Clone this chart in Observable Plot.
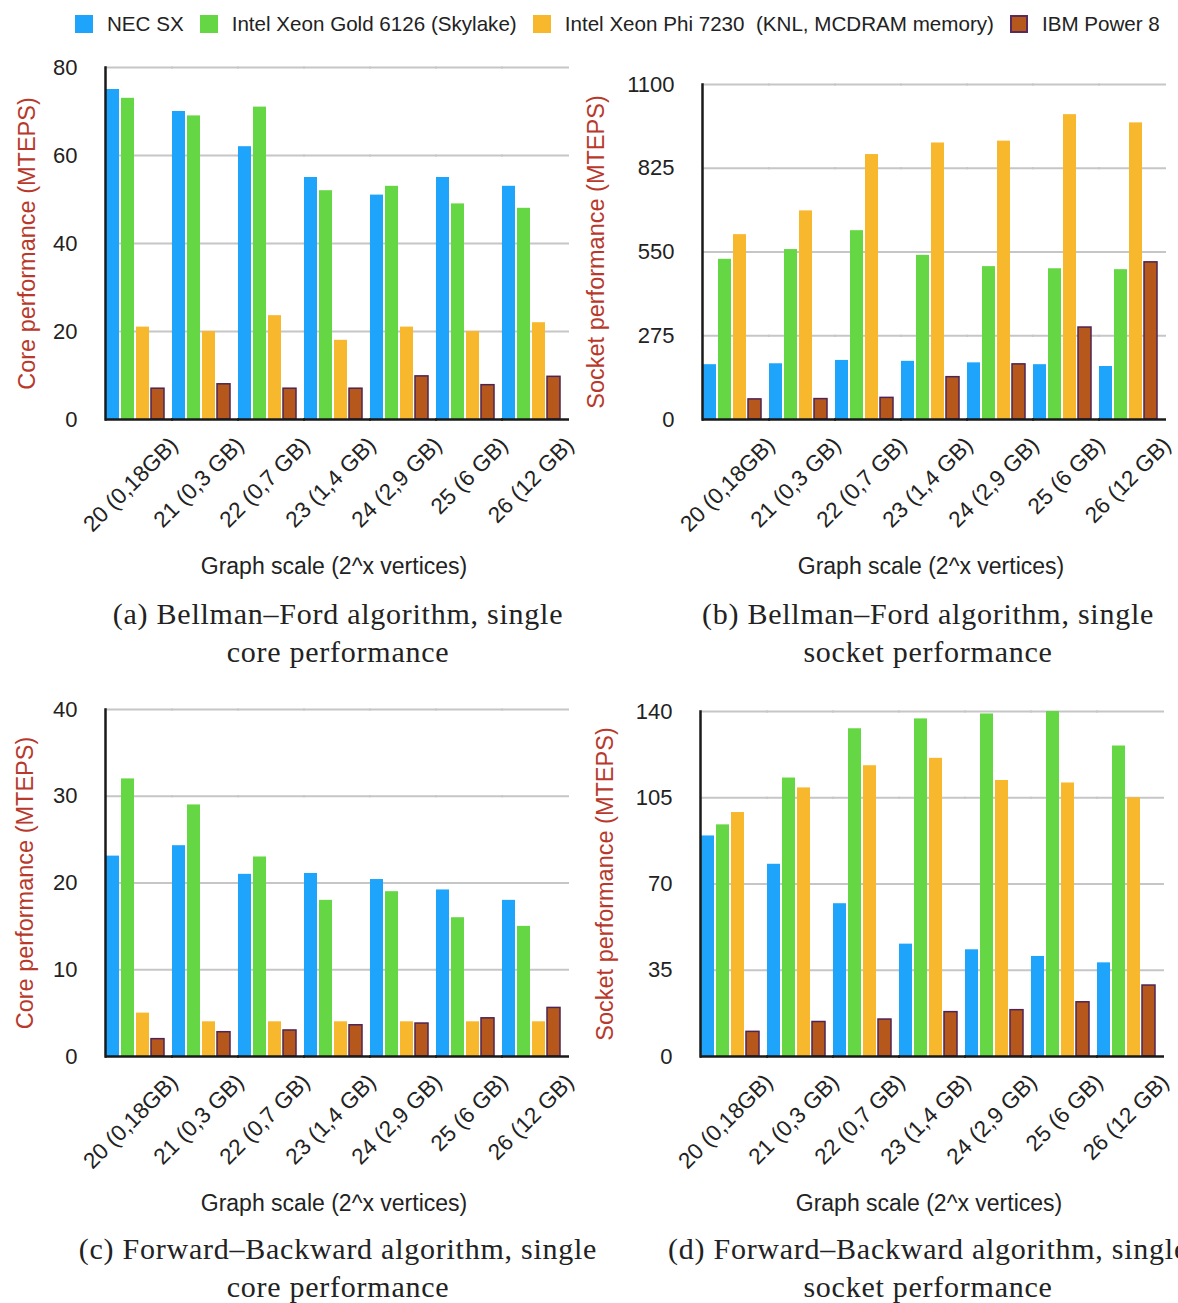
<!DOCTYPE html>
<html><head><meta charset="utf-8">
<script src="https://cdn.jsdelivr.net/npm/d3@7"></script>
<script src="https://cdn.jsdelivr.net/npm/@observablehq/plot@0.6"></script>
<style>
html,body{margin:0;padding:0;background:#fff;width:1178px;height:1303px;overflow:hidden;position:relative;}
.panel{position:absolute;}
.legend{position:absolute;top:12px;left:75px;height:24px;display:flex;align-items:center;font-family:"Liberation Sans",Arial,sans-serif;font-size:20.6px;color:#222;white-space:pre;}
.sw{width:18px;height:18px;margin-right:14px;box-sizing:border-box;}
.item{display:flex;align-items:center;margin-right:16px;}
.cap{position:absolute;width:640px;text-align:center;font-family:"Liberation Serif","Times New Roman",serif;font-size:30px;letter-spacing:0.75px;line-height:38px;color:#222;white-space:nowrap;}
</style></head><body>
<div id="legend" class="legend"></div>
<div id="pa" class="panel" style="left:0;top:40px"></div>
<div id="pb" class="panel" style="left:589px;top:40px"></div>
<div id="pc" class="panel" style="left:0;top:680px"></div>
<div id="pd" class="panel" style="left:589px;top:680px"></div>
<div class="cap" style="left:18px;top:595px">(a) Bellman–Ford algorithm, single<br>core performance</div>
<div class="cap" style="left:608px;top:595px">(b) Bellman–Ford algorithm, single<br>socket performance</div>
<div class="cap" style="left:18px;top:1230px">(c) Forward–Backward algorithm, single<br>core performance</div>
<div class="cap" style="left:608px;top:1230px">(d) Forward–Backward algorithm, single<br>socket performance</div>
<script>
const categories = ["20 (0,18GB)", "21 (0,3 GB)", "22 (0,7 GB)", "23 (1,4 GB)", "24 (2,9 GB)", "25 (6 GB)", "26 (12 GB)"];
const series = ["NEC SX", "Intel Xeon Gold 6126 (Skylake)", "Intel Xeon Phi 7230  (KNL, MCDRAM memory)", "IBM Power 8"];
const colors = ["#1ea4fb", "#66d744", "#f8b82e", "#b6581c"];
const xTitle = "Graph scale (2^x vertices)";

// (a) Bellman-Ford, single core
const bfCoreNEC = [75, 70, 62, 55, 51, 55, 53];
const bfCoreSkylake = [73, 69, 71, 52, 53, 49, 48];
const bfCoreKNL = [21, 20, 23.6, 18, 21, 20, 22];
const bfCoreIBM = [7, 8, 7, 7, 9.8, 7.8, 9.7];
const bfCoreTicks = [0, 20, 40, 60, 80];

// (b) Bellman-Ford, single socket
const bfSocketNEC = [180, 183, 194, 191, 186, 180, 174];
const bfSocketSkylake = [526, 558, 620, 539, 502, 495, 492];
const bfSocketKNL = [607, 685, 870, 908, 914, 1001, 974];
const bfSocketIBM = [66, 67, 71, 139, 181, 302, 516];
const bfSocketTicks = [0, 275, 550, 825, 1100];

// (c) Forward-Backward, single core
const fbCoreNEC = [23.1, 24.3, 21, 21.1, 20.4, 19.2, 18];
const fbCoreSkylake = [32, 29, 23, 18, 19, 16, 15];
const fbCoreKNL = [5, 4, 4, 4, 4, 4, 4];
const fbCoreIBM = [2, 2.8, 3, 3.6, 3.8, 4.4, 5.6];
const fbCoreTicks = [0, 10, 20, 30, 40];

// (d) Forward-Backward, single socket
const fbSocketNEC = [89.5, 78, 62, 45.6, 43.3, 40.6, 38];
const fbSocketSkylake = [94, 113, 133, 137, 139, 140, 126];
const fbSocketKNL = [99, 109, 118, 121, 112, 111, 105];
const fbSocketIBM = [10, 14, 15, 18, 18.8, 22, 28.8];
const fbSocketTicks = [0, 35, 70, 105, 140];

// legend
const lg = document.getElementById("legend");
series.forEach((s, i) => {
  const it = document.createElement("div"); it.className = "item";
  const sw = document.createElement("div"); sw.className = "sw";
  sw.style.background = colors[i];
  if (i === 3) sw.style.border = "2px solid #5a2a5e";
  const t = document.createElement("span"); t.textContent = s;
  it.appendChild(sw); it.appendChild(t); lg.appendChild(it);
});

const FONT = '"Liberation Sans", Arial, Helvetica, sans-serif';

function panel(id, values, ticks, yLabel, m, yLabelDx) {
  const data = [];
  categories.forEach((c, i) => series.forEach((s, j) => data.push({group: c, series: s, value: values[j][i]})));
  const chart = Plot.plot({
    width: 589, height: 550,
    marginLeft: m[0], marginRight: m[1], marginTop: m[2], marginBottom: m[3],
    style: {fontFamily: FONT, fontSize: "22px", color: "#222", background: "transparent", overflow: "visible"},
    fx: {domain: categories, paddingInner: 0.08, paddingOuter: 0, label: null},
    x: {domain: series, paddingInner: 0.12, paddingOuter: 0, axis: null},
    y: {domain: [0, ticks[ticks.length - 1]], axis: null},
    color: {domain: series, range: colors},
    marks: [
      Plot.ruleY(ticks.slice(1), {stroke: "#c6c6c6", strokeWidth: 2, insetRight: -7}),
      Plot.barY(data, {fx: "group", x: "series", y: "value", fill: "series"}),
      Plot.barY(data.filter(d => d.series === series[3]), {fx: "group", x: "series", y: "value", fill: "series", stroke: "#4e2454", strokeWidth: 1.5}),
      Plot.ruleY([0], {stroke: "#1a1a1a", strokeWidth: 2.5, insetRight: -7}),
      Plot.frame({anchor: "left", facet: "super", stroke: "#1a1a1a", strokeWidth: 2.5}),
      Plot.axisY({ticks, tickFormat: d => String(d), tickSize: 0, tickPadding: 28, fontSize: 22, fill: "#222", label: null}),
      Plot.axisFx({anchor: "bottom", tickSize: 0, tickRotate: -45, dx: 38, dy: 10, fontSize: 22.5, fill: "#222", label: null}),
      Plot.text([xTitle], {text: d => d, facet: "super", frameAnchor: "bottom", lineAnchor: "middle", dy: 147, fontSize: 23, fill: "#222"}),
      Plot.text([yLabel], {text: d => d, facet: "super", frameAnchor: "left", textAnchor: "middle", lineAnchor: "middle", rotate: -90, dx: yLabelDx, fontSize: 23.5, fill: "#b8392c"})
    ]
  });
  document.getElementById(id).appendChild(chart);
}

panel("pa", [bfCoreNEC, bfCoreSkylake, bfCoreKNL, bfCoreIBM], bfCoreTicks, "Core performance (MTEPS)", [102, 24, 27, 171], -78);
panel("pb", [bfSocketNEC, bfSocketSkylake, bfSocketKNL, bfSocketIBM], bfSocketTicks, "Socket performance (MTEPS)", [110, 17, 44, 171], -106);
panel("pc", [fbCoreNEC, fbCoreSkylake, fbCoreKNL, fbCoreIBM], fbCoreTicks, "Core performance (MTEPS)", [102, 24, 29, 174], -80);
panel("pd", [fbSocketNEC, fbSocketSkylake, fbSocketKNL, fbSocketIBM], fbSocketTicks, "Socket performance (MTEPS)", [108, 18, 31, 174], -95);
</script>
</body></html>
